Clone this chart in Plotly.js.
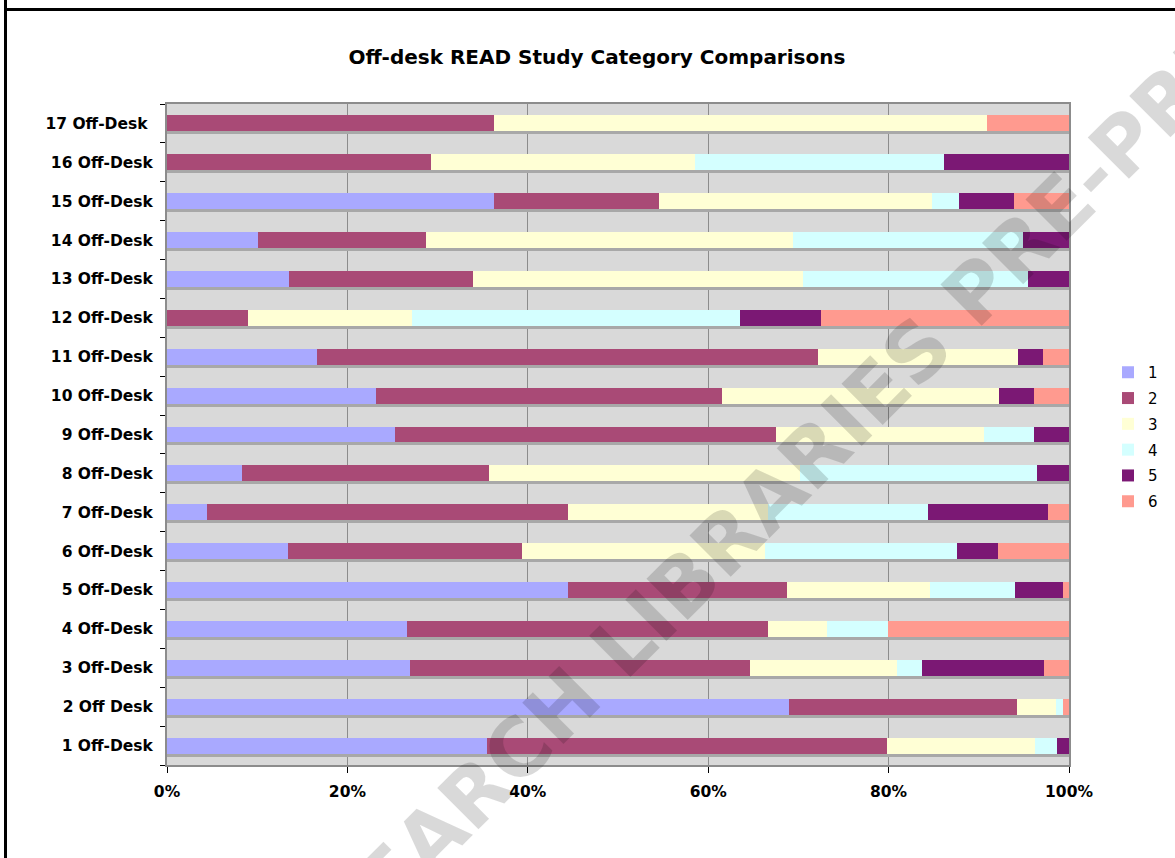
<!DOCTYPE html>
<html>
<head>
<meta charset="utf-8">
<script src="https://cdn.plot.ly/plotly-3.0.1.min.js"></script>
<style>
  html, body { margin: 0; padding: 0; background: #fff; }
  #wrap { position: relative; width: 1175px; height: 858px; overflow: hidden; }
  #chart { width: 1175px; height: 858px; }
  #frame { position: absolute; left: 4px; top: 8px; width: 1300px; height: 1000px;
           border-top: 3px solid #000; border-left: 3px solid #000; pointer-events: none; }
  #frame2 { position: absolute; left: 4px; top: 0; width: 3px; height: 10px; background: #000; }
</style>
</head>
<body>
<div id="wrap">
  <div id="chart"></div>
  <div id="frame"></div>
  <div id="frame2"></div>
</div>
<script>
const categories = ['1 Off-Desk','2 Off Desk','3 Off-Desk','4 Off-Desk','5 Off-Desk','6 Off-Desk',
  '7 Off-Desk','8 Off-Desk','9 Off-Desk','10 Off-Desk','11 Off-Desk','12 Off-Desk',
  '13 Off-Desk','14 Off-Desk','15 Off-Desk','16 Off-Desk','17 Off-Desk '];

const seriesNames = ['1','2','3','4','5','6'];

const s1 = [35.4, 69.0, 27.0, 26.6, 44.5, 13.4, 4.4, 8.3, 25.3, 23.1, 16.6, 0, 13.6, 10.1, 36.3, 0, 0];
const s2 = [44.3, 25.3, 37.8, 40.0, 24.3, 25.9, 40.1, 27.4, 42.2, 38.4, 55.6, 9.0, 20.4, 18.6, 18.3, 29.3, 36.3];
const s3 = [16.4, 4.4, 16.3, 6.6, 15.9, 26.9, 22.2, 34.6, 23.1, 30.6, 22.2, 18.2, 36.6, 40.7, 30.3, 29.3, 54.7];
const s4 = [2.5, 0.7, 2.8, 6.7, 9.4, 21.3, 17.8, 26.3, 5.5, 0, 0, 36.4, 25.1, 25.5, 3.0, 27.6, 0];
const s5 = [1.3, 0, 13.5, 0, 5.3, 4.5, 13.3, 3.5, 3.9, 3.9, 2.8, 9.0, 4.5, 5.1, 6.1, 13.9, 0];
const s6 = [0, 0.7, 2.8, 20.1, 0.7, 7.9, 2.3, 0, 0, 3.9, 2.9, 27.5, 0, 0, 6.1, 0, 9.1];

const xTickVals = [0, 20, 40, 60, 80, 100];
const xTickText = ['0%', '20%', '40%', '60%', '80%', '100%'];

const colors = ['#a9a9ff', '#a94a76', '#ffffd5', '#d4ffff', '#7b1874', '#ff9a8f'];
const allSeries = [s1, s2, s3, s4, s5, s6];

// row totals (for the drop shadow behind each stacked bar)
const rowTotals = categories.map((_, r) => allSeries.reduce((a, s) => a + s[r], 0));

const shadowTrace = {
  type: 'bar', orientation: 'h', name: 'shadow', showlegend: false,
  y: categories, x: rowTotals,
  xaxis: 'x', yaxis: 'y',
  marker: { color: '#a8a8a8', line: { width: 0 } },
  hoverinfo: 'skip'
};

const traces = [shadowTrace].concat(allSeries.map((vals, i) => ({
  type: 'bar',
  orientation: 'h',
  name: seriesNames[i],
  legendgroup: 'g' + i,
  y: categories,
  x: vals,
  xaxis: 'x', yaxis: 'y2',
  marker: { color: colors[i], line: { width: 0 } },
  hoverinfo: 'skip'
})));

const plotH = 858 - 104 - 93;
const shadowShift = 3 * categories.length / plotH; // 3px in category units

const layout = {
  width: 1175,
  height: 858,
  margin: { l: 167, r: 106, t: 104, b: 93 },
  paper_bgcolor: '#ffffff',
  plot_bgcolor: '#d9d9d9',
  barmode: 'stack',
  barnorm: 'percent',
  bargap: 0.59,
  font: { family: 'DejaVu Sans, Verdana, sans-serif', color: '#000' },
  title: {
    text: '<b>Off-desk READ Study Category Comparisons</b>',
    font: { family: 'DejaVu Sans, sans-serif', size: 20, color: '#000' },
    xref: 'container', x: 0.508, xanchor: 'center',
    yref: 'container', y: 1 - 57 / 858, yanchor: 'middle'
  },
  xaxis: {
    range: [0, 100],
    tickvals: xTickVals,
    ticktext: xTickText.map(t => '<b>' + t + '</b>'),
    tickfont: { size: 15.5 },
    showgrid: true,
    gridcolor: '#8c8c8c',
    gridwidth: 1,
    showline: true,
    linecolor: '#8c8c8c',
    linewidth: 2,
    mirror: true,
    ticks: 'outside',
    ticklen: 6,
    tickcolor: '#000',
    ticklabelstandoff: 5,
    zeroline: false,
    fixedrange: true
  },
  yaxis: {
    type: 'category',
    categoryarray: categories,
    range: [-0.5 + shadowShift, categories.length - 0.5 + shadowShift],
    showticklabels: false,
    showgrid: false,
    showline: false,
    ticks: '',
    fixedrange: true
  },
  yaxis2: {
    type: 'category',
    overlaying: 'y',
    side: 'left',
    anchor: 'x',
    categoryarray: categories,
    range: [-0.5, categories.length - 0.5],
    tickvals: categories,
    ticktext: categories.map(t => '<b>' + t + '</b>'),
    tickfont: { size: 15.5 },
    showgrid: false,
    showline: true,
    linecolor: '#8c8c8c',
    linewidth: 2,
    mirror: true,
    ticks: 'outside',
    tickson: 'boundaries',
    ticklen: 5,
    tickcolor: '#000',
    ticklabelstandoff: 9,
    fixedrange: true
  },
  showlegend: true,
  legend: {
    x: (1108 - 167) / 902, xanchor: 'left',
    y: (765 - 356) / 661, yanchor: 'top',
    traceorder: 'grouped',
    tracegroupgap: 3.3,
    font: { size: 15, family: 'DejaVu Sans, sans-serif' },
    bgcolor: 'rgba(0,0,0,0)'
  },
  annotations: [{
    text: '<b>RESEARCH LIBRARIES PRE-PRINT</b>',
    xref: 'paper', yref: 'paper',
    x: (772 - 167) / 902, y: (765 - 496) / plotH,
    xanchor: 'center', yanchor: 'middle',
    textangle: -45,
    showarrow: false,
    font: { family: 'DejaVu Sans, sans-serif', size: 80, color: 'rgba(0,0,0,0.15)' }
  }]
};

Plotly.newPlot('chart', traces, layout, { displayModeBar: false, staticPlot: true });
</script>
</body>
</html>
